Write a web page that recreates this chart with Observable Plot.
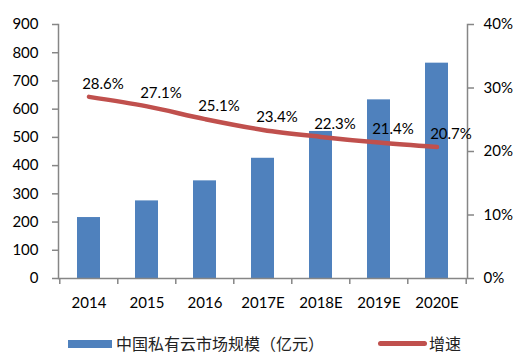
<!DOCTYPE html>
<html><head><meta charset="utf-8">
<script src="https://cdn.jsdelivr.net/npm/d3@7"></script>
<script src="https://cdn.jsdelivr.net/npm/@observablehq/plot@0.6"></script>
<style>
body{margin:0;background:#fff;}
#wrap{position:relative;width:520px;height:362px;overflow:hidden;background:#fff;}
#legend{position:absolute;left:0;top:320px;width:520px;height:42px;font-family:"Noto Sans CJK SC",sans-serif;font-size:16px;color:#222;}
.sw{position:absolute;}
.lt{position:absolute;white-space:nowrap;line-height:20px;}
</style>
</head><body>
<div id="wrap"><div id="chart"></div>
<div id="legend">
  <div class="sw" style="left:68px;top:20px;width:44px;height:8px;background:#4f81bd"></div>
  <div class="lt" style="left:116px;top:13px">中国私有云市场规模（亿元）</div>
  <div class="sw" style="left:378px;top:21px;width:49px;height:5px;border-radius:3px;background:#c0504d"></div>
  <div class="lt" style="left:429px;top:13px">增速</div>
</div></div>
<script>
const years = ["2014","2015","2016","2017E","2018E","2019E","2020E"];
const marketSize = [216, 275, 346, 426, 521, 633, 763];
const growth = [28.6, 27.1, 25.1, 23.4, 22.3, 21.4, 20.7];
const leftTicks = [0,100,200,300,400,500,600,700,800,900];
const rightTicks = [0,10,20,30,40];

const rows = years.map((y,i)=>({year:y, size:marketSize[i], growth:growth[i]}));
const W = 520, H = 320, ML = 58, MR = 53, MT = 24, MB = 42;
const step = (W - ML - MR) / years.length;
const toLeft = g => g * 900 / 40;
const axisColor = "#868686";
const font = "Lato, 'Open Sans', sans-serif";

const chart = Plot.plot({
  width: W, height: H,
  marginLeft: ML, marginRight: MR, marginTop: MT, marginBottom: MB,
  style: {fontFamily: font, fontSize: "15px", color: "#000", background: "#fff", overflow: "visible"},
  x: {domain: years, paddingInner: 0.6, paddingOuter: 0.3, axis: null},
  y: {domain: [0, 900], axis: null},
  marks: [
    Plot.barY(rows, {x: "year", y: "size", fill: "#4f81bd"}),
    Plot.frame({anchor: "left", stroke: axisColor, strokeWidth: 1.5}),
    Plot.frame({anchor: "right", stroke: axisColor, strokeWidth: 1.5}),
    Plot.ruleY([0], {stroke: axisColor, strokeWidth: 1.5}),
    Plot.axisY(leftTicks, {anchor: "left", label: null, tickSize: 6, tickPadding: 14, stroke: axisColor, fill: "#000", fontSize: 15, strokeWidth: 1.5}),
    Plot.axisY(rightTicks.map(toLeft), {anchor: "right", label: null, tickSize: 6, tickPadding: 10, stroke: axisColor, fill: "#000", fontSize: 15, strokeWidth: 1.5, tickFormat: d => Math.round(d * 40 / 900) + "%"}),
    Plot.axisX(years, {label: null, tickSize: 6, dx: -step / 2, stroke: axisColor, strokeWidth: 1.5, tickFormat: () => ""}),
    Plot.axisX(["2020E"], {label: null, tickSize: 6, dx: step / 2, stroke: axisColor, strokeWidth: 1.5, tickFormat: () => ""}),
    Plot.axisX(years, {label: null, tickSize: 0, tickPadding: 19, fill: "#000", fontSize: 15}),
    Plot.line(rows, {x: "year", y: d => toLeft(d.growth), stroke: "#c0504d", strokeWidth: 4.5, curve: "catmull-rom", strokeLinecap: "round"}),
    Plot.text(rows, {x: "year", y: d => toLeft(d.growth), text: d => d.growth.toFixed(1) + "%", dx: 14, dy: -13, fill: "#000", fontSize: 15})
  ]
});
document.getElementById("chart").appendChild(chart);
</script>
</body></html>
